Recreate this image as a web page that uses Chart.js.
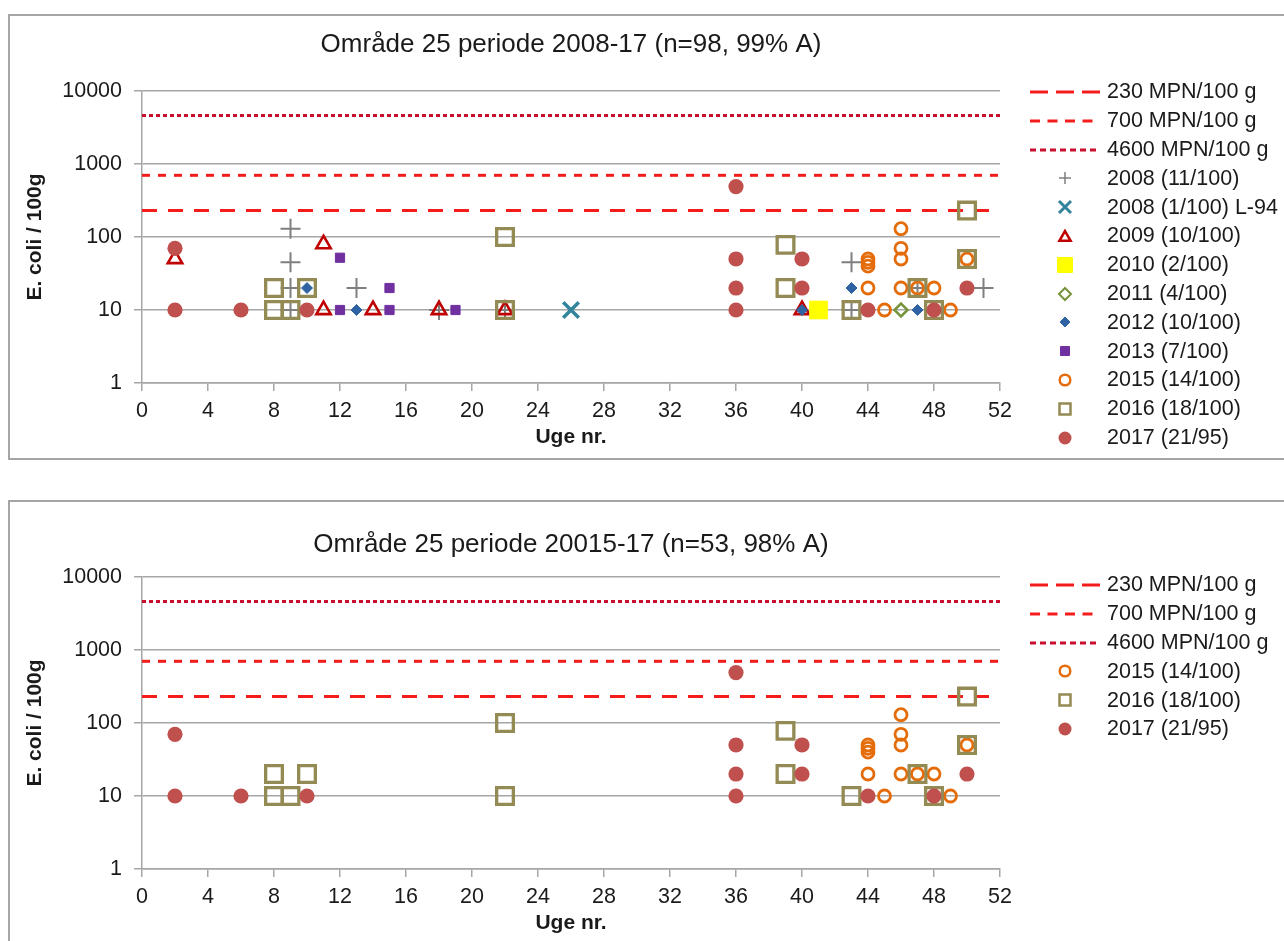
<!DOCTYPE html>
<html>
<head>
<meta charset="utf-8">
<script src="https://cdn.jsdelivr.net/npm/chart.js@4/dist/chart.umd.min.js"></script>
<style>
body{margin:0;width:1284px;height:941px;overflow:hidden;background:#fff;font-family:"Liberation Sans",Arial,sans-serif;color:#1a1a1a;position:relative}
.box{position:absolute;left:8px;width:1300px;border:2px solid #a5a5a5;background:#fff}
.wrap{position:absolute;left:10px;width:1274px;height:442px}
.leg{position:absolute;left:1030px}
.leg div{height:28.8px;display:flex;align-items:center;white-space:nowrap;font-size:21.5px}
.leg canvas{width:70px;height:28px;margin-right:7px}
</style>
</head>
<body>
<div class="box" style="top:14px;height:442px"></div>
<div class="box" style="top:500px;height:460px"></div>
<div class="wrap" style="top:16px"><canvas id="chartTop" width="1274" height="442"></canvas></div>
<div class="wrap" style="top:502px"><canvas id="chartBottom" width="1274" height="442"></canvas></div>
<div class="leg" id="legTop" style="top:77.6px"></div>
<div class="leg" id="legBottom" style="top:570.6px"></div>
<script>
// aksen
const yTicks = [1, 10, 100, 1000, 10000]
const ugeMin = 0, ugeMax = 52, ugeStep = 4

// grænseværdier
const graenser = [230, 700, 4600]
const graenseNavne = ['230 MPN/100 g', '700 MPN/100 g', '4600 MPN/100 g']

// data (uge nr., E. coli / 100g)
const uge2008 = [9, 9, 9, 9, 13, 18, 22, 43, 43, 47, 51]
const ecoli2008 = [130, 45, 20, 10, 20, 10, 10, 45, 10, 20, 20]
const ugeL94 = [26]
const ecoliL94 = [10]
const uge2009 = [2, 11, 11, 14, 18, 22, 40]
const ecoli2009 = [50, 80, 10, 10, 10, 10, 10]
const uge2010 = [41]
const ecoli2010 = [10]
const uge2011 = [46]
const ecoli2011 = [10]
const uge2012 = [10, 13, 40, 43, 47]
const ecoli2012 = [20, 10, 10, 20, 10]
const uge2013 = [12, 12, 15, 15, 19]
const ecoli2013 = [52, 10, 20, 10, 10]
const uge2015 = [44, 44, 44, 44, 45, 46, 46, 46, 46, 47, 48, 49, 50]
const ecoli2015 = [50, 45, 40, 20, 10, 130, 70, 50, 20, 20, 20, 10, 50]
const uge2016 = [8, 8, 9, 10, 22, 22, 39, 39, 43, 47, 48, 50, 50]
const ecoli2016 = [20, 10, 10, 20, 100, 10, 78, 20, 10, 20, 10, 230, 50]
const uge2017 = [2, 2, 6, 10, 36, 36, 36, 36, 40, 40, 44, 48, 50]
const ecoli2017 = [70, 10, 10, 10, 490, 50, 20, 10, 50, 20, 10, 10, 20]

const tekst = '#1a1a1a'
const gitter = '#a6a6a6'
const fam = '"Liberation Sans", Arial, sans-serif'

// linjer: farve, dash i diagram, dash og længde i forklaring
const linjeStil = [
    {color: '#f51c1c', dash: [15, 11], legDash: [18, 8], legLen: 70},
    {color: '#f51c1c', dash: [8, 8], legDash: [10, 7.5], legLen: 63},
    {color: '#c8102e', dash: [4, 3], legDash: [6, 4], legLen: 70}
]

function serie(label, uger, vaerdier, stil) {
    return {label: label, uger: uger, vaerdier: vaerdier, stil: stil}
}

const s2008 = serie('2008 (11/100)', uge2008, ecoli2008, {pointStyle: 'cross', r: 10, color: '#7f7f7f', fill: '#7f7f7f', w: 2, legR: 6, legW: 1.5})
const sL94 = serie('2008 (1/100) L-94', ugeL94, ecoliL94, {pointStyle: 'crossRot', r: 11, color: '#31849b', fill: '#31849b', w: 3.5, legR: 6, legW: 3})
const s2009 = serie('2009 (10/100)', uge2009, ecoli2009, {pointStyle: 'triangle', r: 8.3, color: '#c00000', fill: 'rgba(0,0,0,0)', w: 2.6, legR: 6.5, legW: 2.5})
const s2010 = serie('2010 (2/100)', uge2010, ecoli2010, {pointStyle: 'rect', r: 12.5, color: '#ffff00', fill: '#ffff00', w: 1, legR: 7.5, legW: 1})
const s2011 = serie('2011 (4/100)', uge2011, ecoli2011, {pointStyle: 'rectRot', r: 6.5, color: '#77933c', fill: 'rgba(0,0,0,0)', w: 2.5, legR: 6, legW: 2})
const s2012 = serie('2012 (10/100)', uge2012, ecoli2012, {pointStyle: 'rectRot', r: 5.5, color: '#2f63a3', fill: '#2f63a3', w: 1, legR: 5, legW: 1})
const s2013 = serie('2013 (7/100)', uge2013, ecoli2013, {pointStyle: 'rect', r: 6.5, color: '#7030a0', fill: '#7030a0', w: 1, legR: 4.5, legW: 1})
const s2015 = serie('2015 (14/100)', uge2015, ecoli2015, {pointStyle: 'circle', r: 6, color: '#e46c0a', fill: 'rgba(0,0,0,0)', w: 2.8, legR: 5.3, legW: 2.5})
const s2016 = serie('2016 (18/100)', uge2016, ecoli2016, {pointStyle: 'rect', r: 11.8, color: '#948a54', fill: 'rgba(0,0,0,0)', w: 3.3, legR: 5.5, legW: 2.5})
const s2017 = serie('2017 (21/95)', uge2017, ecoli2017, {pointStyle: 'circle', r: 7.6, color: '#c0504d', fill: '#c0504d', w: 0, legR: 6.5, legW: 0})

const serierTop = [s2008, sL94, s2009, s2010, s2011, s2012, s2013, s2015, s2016, s2017]
const serierBund = [s2015, s2016, s2017]

function lavChart(id, serier, titel, titelPad) {
    const datasets = []
    graenser.forEach((g, i) => {
        datasets.push({
            type: 'line',
            label: graenseNavne[i],
            data: [{x: ugeMin, y: g}, {x: ugeMax, y: g}],
            borderColor: linjeStil[i].color,
            borderDash: linjeStil[i].dash,
            borderWidth: 3,
            pointRadius: 0,
            pointHoverRadius: 0,
            fill: false,
            order: 100
        })
    })
    serier.forEach((s, i) => {
        datasets.push({
            label: s.label,
            data: s.uger.map((u, j) => ({x: u, y: s.vaerdier[j]})),
            pointStyle: s.stil.pointStyle,
            pointRadius: s.stil.r,
            pointHoverRadius: s.stil.r,
            backgroundColor: s.stil.fill,
            borderColor: s.stil.color,
            borderWidth: s.stil.w,
            pointBorderWidth: s.stil.w,
            showLine: false,
            order: 50 - i
        })
    })
    return new Chart(document.getElementById(id), {
        type: 'scatter',
        data: {datasets: datasets},
        options: {
            responsive: false,
            animation: false,
            layout: {padding: {left: 0, right: 284, top: 0, bottom: 0}},
            plugins: {
                legend: {display: false},
                title: {
                    display: true,
                    text: titel,
                    fullSize: false,
                    color: tekst,
                    font: {family: fam, size: 26, weight: 'normal'},
                    padding: titelPad
                }
            },
            scales: {
                x: {
                    type: 'linear',
                    min: ugeMin,
                    max: ugeMax,
                    ticks: {stepSize: ugeStep, color: tekst, font: {family: fam, size: 21.5}, padding: 7, maxRotation: 0, autoSkip: false},
                    grid: {drawOnChartArea: false, tickLength: 8, color: gitter, lineWidth: 1.5},
                    border: {color: gitter, width: 1.5},
                    title: {display: true, text: 'Uge nr.', color: tekst, font: {family: fam, size: 21, weight: 'bold'}, padding: {top: 4, bottom: 8.4}},
                    afterFit: function(s) { s.height = 75 }
                },
                y: {
                    type: 'logarithmic',
                    min: yTicks[0],
                    max: yTicks[yTicks.length - 1],
                    afterBuildTicks: function(s) { s.ticks = yTicks.map(v => ({value: v})) },
                    ticks: {color: tekst, font: {family: fam, size: 21.5}, padding: 12, callback: v => String(v)},
                    grid: {color: gitter, lineWidth: 1.5, tickLength: 8},
                    border: {color: gitter, width: 1.5},
                    title: {display: true, text: 'E. coli / 100g', color: tekst, font: {family: fam, size: 21, weight: 'bold'}, padding: {top: 12.4, bottom: 0}},
                    afterFit: function(s) { s.width = 132 }
                }
            }
        }
    })
}

function tegnMarkoer(ctx, st, cx, cy) {
    const r = st.legR
    ctx.lineWidth = st.legW
    ctx.strokeStyle = st.color
    ctx.fillStyle = st.fill
    ctx.beginPath()
    if (st.pointStyle == 'circle') {
        ctx.arc(cx, cy, r, 0, Math.PI * 2)
    } else if (st.pointStyle == 'rect') {
        ctx.rect(cx - r, cy - r, 2 * r, 2 * r)
    } else if (st.pointStyle == 'rectRot') {
        ctx.moveTo(cx, cy - r); ctx.lineTo(cx + r, cy); ctx.lineTo(cx, cy + r); ctx.lineTo(cx - r, cy); ctx.closePath()
    } else if (st.pointStyle == 'triangle') {
        for (let k = 0; k < 3; k++) {
            const a = k * 2 * Math.PI / 3
            const px = cx + Math.sin(a) * r, py = cy + 1.5 - Math.cos(a) * r
            if (k == 0) ctx.moveTo(px, py); else ctx.lineTo(px, py)
        }
        ctx.closePath()
    } else if (st.pointStyle == 'cross') {
        ctx.moveTo(cx - r, cy); ctx.lineTo(cx + r, cy); ctx.moveTo(cx, cy - r); ctx.lineTo(cx, cy + r)
    } else if (st.pointStyle == 'crossRot') {
        ctx.moveTo(cx - r, cy - r); ctx.lineTo(cx + r, cy + r); ctx.moveTo(cx + r, cy - r); ctx.lineTo(cx - r, cy + r)
    }
    if (st.pointStyle != 'cross' && st.pointStyle != 'crossRot') ctx.fill()
    if (st.legW > 0) ctx.stroke()
}

function lavForklaring(divId, serier) {
    const boks = document.getElementById(divId)
    const raekker = graenseNavne.map((n, i) => ({label: n, linje: linjeStil[i]}))
        .concat(serier.map(s => ({label: s.label, stil: s.stil})))
    raekker.forEach(rk => {
        const d = document.createElement('div')
        const c = document.createElement('canvas')
        c.width = 70; c.height = 28
        const ctx = c.getContext('2d')
        if (rk.linje) {
            ctx.strokeStyle = rk.linje.color
            ctx.lineWidth = 3
            ctx.setLineDash(rk.linje.legDash)
            ctx.beginPath(); ctx.moveTo(0, 14); ctx.lineTo(rk.linje.legLen, 14); ctx.stroke()
        } else {
            tegnMarkoer(ctx, rk.stil, 35, 14)
        }
        const t = document.createElement('span')
        t.textContent = rk.label
        d.appendChild(c); d.appendChild(t)
        boks.appendChild(d)
    })
}

window.onload = function() {
    window.chartTop = lavChart('chartTop', serierTop, 'Område 25 periode 2008-17 (n=98, 99% A)', {top: 13.4, bottom: 30.4})
    window.chartBottom = lavChart('chartBottom', serierBund, 'Område 25 periode 20015-17 (n=53, 98% A)', {top: 27.4, bottom: 16.4})
    lavForklaring('legTop', serierTop)
    lavForklaring('legBottom', serierBund)
}
</script>
</body>
</html>
